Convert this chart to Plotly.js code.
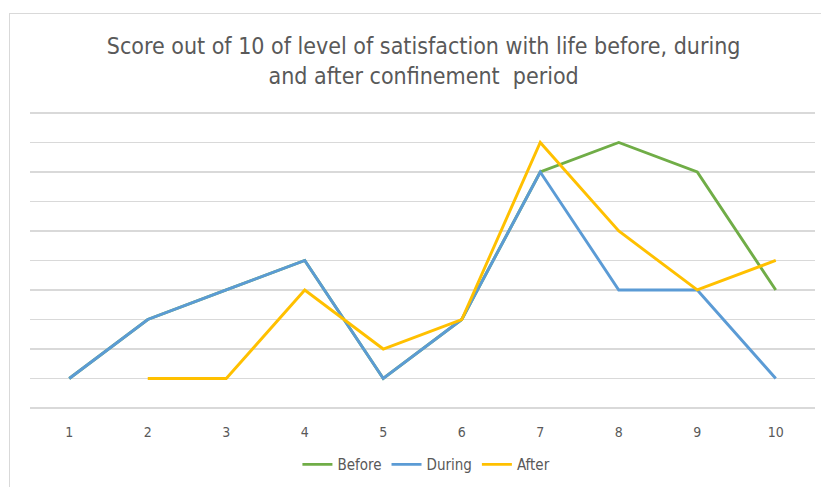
<!DOCTYPE html>
<html>
<head>
<meta charset="utf-8">
<script src="https://cdn.plot.ly/plotly-3.0.1.min.js"></script>
<style>
html,body{margin:0;padding:0;background:#fff;overflow:hidden;}
#wrap{position:relative;width:821px;height:487px;overflow:hidden;}
#frame{position:absolute;left:9px;top:13px;width:840px;height:520px;border:1px solid #d9d9d9;}
#chart{position:absolute;left:0;top:0;width:821px;height:487px;}
</style>
</head>
<body>
<div id="wrap"><div id="frame"></div><div id="chart"></div></div>
<script>
const categories = [1, 2, 3, 4, 5, 6, 7, 8, 9, 10];
const tickLabels = ["1","2","3","4","5","6","7","8","9","10"];
const before = [1, 3, 4, 5, 1, 3, 8, 9, 8, 4];
const during = [1, 3, 4, 5, 1, 3, 8, 4, 4, 1];
const after  = [null, 1, 1, 4, 2, 3, 9, 6, 4, 5];

const font = "'DejaVu Sans Condensed', 'Liberation Sans Narrow', sans-serif";
const mk = (name, y, color) => ({
  x: categories, y: y, name: name, type: 'scatter', mode: 'lines',
  line: {color: color, width: 2.9}, connectgaps: false
});
const data = [
  mk('Before', before, '#70AD47'),
  mk('During', during, '#5B9BD5'),
  mk('After', after, '#FFC000')
];
const layout = {
  width: 821, height: 487,
  margin: {l: 30, r: 6, t: 110, b: 76},
  paper_bgcolor: 'rgba(0,0,0,0)', plot_bgcolor: 'rgba(0,0,0,0)',
  title: {text: 'Score out of 10 of level of satisfaction with life before, during<br>and after confinement  period',
          font: {family: font, size: 23, color: '#595959'}, x: 0.516, xanchor: 'center', y: 0.889, yanchor: 'middle'},
  xaxis: {range: [0.5, 10.5], tickvals: categories, ticktext: tickLabels, showgrid: false, zeroline: false,
          showline: false, ticks: '', ticklabelstandoff: 14, tickfont: {family: font, size: 14, color: '#595959'}, fixedrange: true},
  yaxis: {range: [0, 10.1], tickvals: [0,1,2,3,4,5,6,7,8,9,10], showticklabels: false, showgrid: true, gridcolor: '#d9d9d9', gridwidth: 1.3,
          zeroline: true, zerolinecolor: '#d9d9d9', zerolinewidth: 1.3, showline: false, ticks: ''},
  showlegend: true,
  legend: {orientation: 'h', x: 0.505, xanchor: 'center', y: -0.19, yanchor: 'middle',
           font: {family: font, size: 15, color: '#595959'}, itemwidth: 30, tracegroupgap: 0},
};
Plotly.newPlot('chart', data, layout, {displayModeBar: false, staticPlot: true});
</script>
</body>
</html>
